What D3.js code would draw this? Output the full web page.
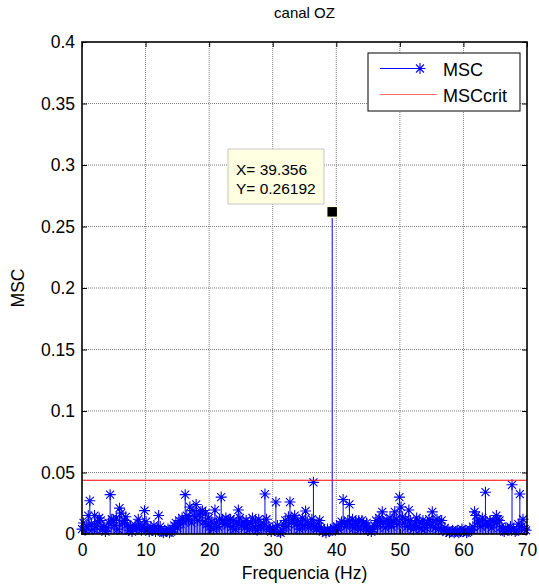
<!DOCTYPE html>
<html><head><meta charset="utf-8">
<script src="https://cdn.jsdelivr.net/npm/d3@7"></script>
<style>body{margin:0;background:#fff}svg{display:block}text{font-family:"Liberation Sans",Arial,sans-serif}</style>
</head><body><svg id="c" width="539" height="585"></svg>
<script>
const title = "canal OZ";
const xLabel = "Frequencia (Hz)";
const yLabel = "MSC";
const xTicks = [0,10,20,30,40,50,60,70];
const yTicks = [0,0.05,0.1,0.15,0.2,0.25,0.3,0.35,0.4];
const yTickLabels = ["0","0.05","0.1","0.15","0.2","0.25","0.3","0.35","0.4"];
const legendLabels = ["MSC","MSCcrit"];
const freqStep = 0.24598; // Hz between spectral bins
const msc = [
0.004,0.009,0.003,0.006,0.015,0.027,0.008,0.004,0.015,0.006,
0.010,0.013,0.011,0.004,0.006,0.002,0.005,0.009,0.032,0.012,
0.011,0.007,0.013,0.004,0.021,0.017,0.009,0.011,0.014,0.008,
0.003,0.006,0.002,0.004,0.007,0.005,0.012,0.008,0.003,0.006,
0.019,0.010,0.004,0.002,0.005,0.003,0.007,0.002,0.004,0.015,
0.006,0.002,0.001,0.003,0.002,0.004,0.001,0.002,0.004,0.007,
0.009,0.005,0.011,0.008,0.013,0.010,0.032,0.015,0.012,0.022,
0.009,0.019,0.014,0.024,0.011,0.016,0.018,0.019,0.010,0.017,
0.008,0.013,0.006,0.010,0.004,0.0195,0.009,0.006,0.012,0.030,
0.011,0.008,0.013,0.007,0.011,0.012,0.006,0.011,0.004,0.009,
0.0195,0.013,0.007,0.010,0.005,0.011,0.008,0.004,0.009,0.013,
0.006,0.010,0.003,0.012,0.007,0.005,0.009,0.0325,0.012,0.006,
0.004,0.002,0.005,0.003,0.026,0.007,0.002,0.001,0.003,0.008,
0.011,0.006,0.014,0.026,0.009,0.012,0.015,0.008,0.011,0.004,
0.009,0.013,0.007,0.0187,0.010,0.005,0.008,0.012,0.042,0.006,
0.004,0.009,0.011,0.005,0.002,0.003,0.001,0.004,0.002,0.003,
0.26192,0.005,0.003,0.006,0.004,0.008,0.010,0.028,0.009,0.006,
0.011,0.024,0.008,0.012,0.005,0.010,0.007,0.011,0.004,0.011,
0.009,0.006,0.009,0.003,0.005,0.002,0.004,0.007,0.011,0.006,
0.013,0.009,0.018,0.010,0.005,0.011,0.008,0.013,0.006,0.010,
0.018,0.012,0.008,0.030,0.022,0.014,0.009,0.012,0.006,0.0195,
0.011,0.007,0.004,0.009,0.013,0.006,0.010,0.004,0.011,0.008,
0.005,0.009,0.012,0.007,0.018,0.010,0.005,0.012,0.004,0.009,
0.011,0.003,0.005,0.002,0.003,0.001,0.002,0.003,0.001,0.002,
0.003,0.001,0.002,0.004,0.002,0.003,0.001,0.002,0.004,0.003,
0.006,0.018,0.015,0.009,0.011,0.006,0.013,0.008,0.034,0.010,
0.007,0.011,0.005,0.011,0.009,0.015,0.012,0.011,0.006,0.003,
0.002,0.005,0.004,0.003,0.006,0.040,0.004,0.002,0.003,0.008,
0.0325,0.006,0.012,0.004,0.003
];
const mscCrit = 0.0437;
const tipX = 39.356, tipY = 0.26192;

const svg = d3.select("#c");
const L = 82, R = 527, T = 42, B = 534;
const x = d3.scaleLinear().domain([0,70]).range([L,R]);
const y = d3.scaleLinear().domain([0,0.4]).range([B,T]);
const blue = "#0000ff";
const data = msc.map((v,i)=>({f:i*freqStep, v}));

// grid
const grid = svg.append("g").attr("stroke","#6e6e6e").attr("stroke-dasharray","1,1").attr("stroke-width",0.9);
xTicks.slice(1,-1).forEach(t=>grid.append("line").attr("x1",x(t)).attr("x2",x(t)).attr("y1",T).attr("y2",B));
yTicks.slice(1,-1).forEach(t=>grid.append("line").attr("y1",y(t)).attr("y2",y(t)).attr("x1",L).attr("x2",R));

// stems
const g = svg.append("g");
g.selectAll("line.stem").data(data).join("line").attr("class","stem")
 .attr("x1",d=>x(d.f)).attr("x2",d=>x(d.f)).attr("y1",y(0)).attr("y2",d=>y(d.v))
 .attr("stroke",blue).attr("stroke-width",1);
const star = "M-5.5,0H5.5M0,-5.5V5.5M-4,-4L4,4M-4,4L4,-4";
g.selectAll("path.mk").data(data).join("path").attr("class","mk")
 .attr("d",star).attr("transform",d=>`translate(${x(d.f)},${y(d.v)})`)
 .attr("stroke",blue).attr("stroke-width",1.1).attr("fill","none");

// critical line
svg.append("line").attr("x1",x(0)).attr("x2",x(70)).attr("y1",y(mscCrit)).attr("y2",y(mscCrit))
 .attr("stroke","#ff0000").attr("stroke-width",1.2);

// axes
const fs = "17.5px";
const ax = svg.append("g").attr("transform",`translate(0,${B})`)
 .call(d3.axisBottom(x).tickValues(xTicks).tickSizeInner(-5).tickSizeOuter(0).tickPadding(10));
const ay = svg.append("g").attr("transform",`translate(${L},0)`)
 .call(d3.axisLeft(y).tickValues(yTicks).tickFormat((d,i)=>yTickLabels[i]).tickSizeInner(-5).tickSizeOuter(0).tickPadding(7));
const at = svg.append("g").attr("transform",`translate(0,${T})`)
 .call(d3.axisTop(x).tickValues(xTicks).tickFormat("").tickSizeInner(-5).tickSizeOuter(0));
const ar = svg.append("g").attr("transform",`translate(${R},0)`)
 .call(d3.axisRight(y).tickValues(yTicks).tickFormat("").tickSizeInner(-5).tickSizeOuter(0));
[ax,ay,at,ar].forEach(a=>{
  a.select(".domain").remove();
  a.selectAll("line").attr("stroke","#000").attr("stroke-width",1);
  a.selectAll("text").attr("fill","#000").style("font-size",fs).style("font-family",'"Liberation Sans",Arial,sans-serif');
});
svg.append("rect").attr("x",L).attr("y",T).attr("width",R-L).attr("height",B-T)
 .attr("fill","none").attr("stroke","#000").attr("stroke-width",1.6);

// labels
svg.append("text").attr("x",(L+R)/2).attr("y",18).attr("text-anchor","middle").style("font-size","15px").text(title);
svg.append("text").attr("x",(L+R)/2).attr("y",579).attr("text-anchor","middle").style("font-size",fs).text(xLabel);
svg.append("text").attr("transform",`translate(24,${(T+B)/2}) rotate(-90)`).attr("text-anchor","middle").style("font-size",fs).text(yLabel);

// legend
const lg = svg.append("g");
lg.append("rect").attr("x",368).attr("y",53).attr("width",152).attr("height",58).attr("fill","#fff").attr("stroke","#000").attr("stroke-width",1);
lg.append("line").attr("x1",380).attr("x2",420).attr("y1",68.5).attr("y2",68.5).attr("stroke",blue).attr("stroke-width",1);
lg.append("path").attr("d",star).attr("transform","translate(420,68.5)").attr("stroke",blue).attr("stroke-width",1.1).attr("fill","none");
lg.append("line").attr("x1",380).attr("x2",437).attr("y1",94.5).attr("y2",94.5).attr("stroke","#ff6f6f").attr("stroke-width",1.2);
lg.append("text").attr("x",443).attr("y",76).style("font-size","18px").text(legendLabels[0]);
lg.append("text").attr("x",443).attr("y",102).style("font-size","18px").text(legendLabels[1]);

// data tip
const tip = svg.append("g");
tip.append("rect").attr("x",228).attr("y",149).attr("width",96).attr("height",55).attr("fill","#ffffe1").attr("stroke","#c8c8c8").attr("stroke-width",1);
tip.append("text").attr("x",236).attr("y",175).style("font-size","15.5px").text(`X= ${tipX}`);
tip.append("text").attr("x",236).attr("y",194).style("font-size","15.5px").text(`Y= ${tipY}`);
tip.append("rect").attr("x",x(tipX)-5.5).attr("y",y(tipY)-5.5).attr("width",11).attr("height",11)
 .attr("fill","#000").attr("stroke","#ffffe1").attr("stroke-width",1.5);
</script></body></html>
